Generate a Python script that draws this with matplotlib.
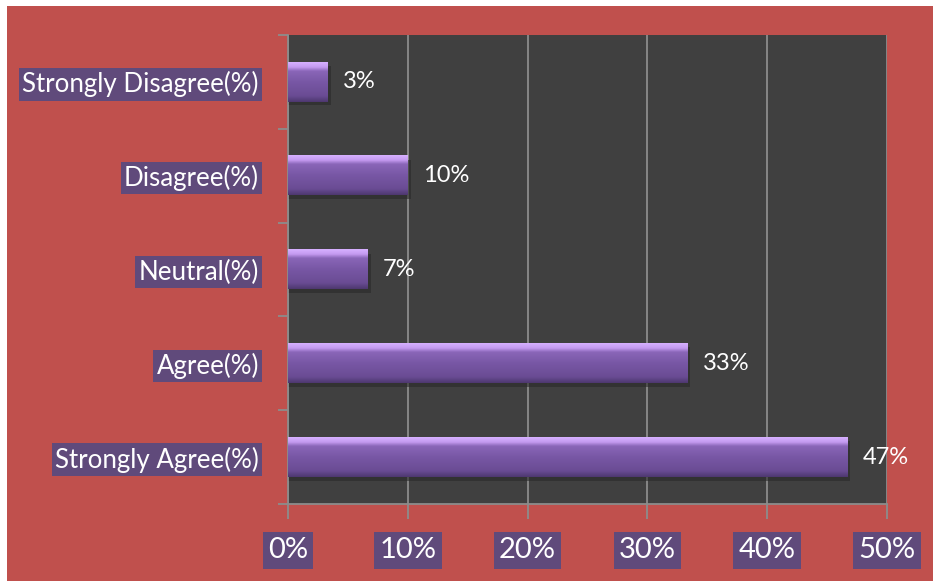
import matplotlib
matplotlib.use("Agg")
import matplotlib.pyplot as plt
import numpy as np
from matplotlib.colors import LinearSegmentedColormap
from matplotlib.patches import Rectangle
from matplotlib.ticker import FixedLocator, FuncFormatter

categories = ["Strongly Agree(%)", "Agree(%)", "Neutral(%)", "Disagree(%)", "Strongly Disagree(%)"]
values = [46.67, 33.33, 6.67, 10.0, 3.33]
value_labels = ["47%", "33%", "7%", "10%", "3%"]
x_ticks = [0, 10, 20, 30, 40, 50]

RED = "#C0504D"
DARK = "#404040"
GRID = "#8C8C8C"
BOX = "#604A7B"
FONT = ["Lato", "DejaVu Sans"]

fig = plt.figure(figsize=(9.33, 5.81), dpi=100, facecolor="white")
fig.patches.append(Rectangle((7/933, 0), 1 - 7/933, 1 - 6/581, transform=fig.transFigure,
                             facecolor=RED, edgecolor="none", zorder=-10))

ax = fig.add_axes([288/933, 1 - 504/581, (887 - 288)/933, (504 - 35)/581])
ax.set_facecolor(DARK)

ax.set_axisbelow(True)
ax.xaxis.set_major_locator(FixedLocator(x_ticks))
ax.grid(axis="x", color=GRID, linewidth=1.3)
ax.grid(axis="y", visible=False)

cmap = LinearSegmentedColormap.from_list("bar", [
    (0.0, "#D6B0FF"), (0.12, "#C49AF0"), (0.22, "#8A66B8"),
    (0.5, "#7857A5"), (0.85, "#6A4C94"), (1.0, "#4E3870")])
grad = np.linspace(0, 1, 64).reshape(-1, 1)
h = 0.42
for i, v in enumerate(values):
    ax.add_patch(Rectangle((0, i - h/2 - 0.04), v + 0.25, h, facecolor="#2A2A2A",
                           edgecolor="none", alpha=0.6, zorder=2))
    ax.imshow(grad, aspect="auto", cmap=cmap, extent=(0, v, i - h/2, i + h/2),
              origin="upper", zorder=3, interpolation="bilinear")
    ax.annotate(value_labels[i], xy=(v, i), xytext=(11, 0), textcoords="offset points",
                ha="left", va="center", color="white", fontsize=17, family=FONT, zorder=5)
ax.set_xlim(0, 50)
ax.set_ylim(-0.5, len(categories) - 0.5)

ax.set_yticks(range(len(categories)))
ax.set_yticklabels(categories)
ax.set_yticks(np.arange(-0.5, len(categories), 1.0), minor=True)
ax.tick_params(axis="y", which="major", length=0, pad=21)
ax.tick_params(axis="y", which="minor", length=7, color=GRID, width=1.3)
ax.xaxis.set_major_formatter(FuncFormatter(lambda x, p: f"{int(x)}%"))
ax.tick_params(axis="x", which="major", length=11, color=GRID, width=1.3, pad=13)

for lab in ax.get_yticklabels():
    lab.set_family(FONT)
    lab.set_fontsize(18.6)
    lab.set_color("white")
    lab.set_bbox(dict(boxstyle="square,pad=0.12", facecolor=BOX, edgecolor="none"))
for lab in ax.get_xticklabels():
    lab.set_family(FONT)
    lab.set_fontsize(21)
    lab.set_color("white")
    lab.set_bbox(dict(boxstyle="square,pad=0.18", facecolor=BOX, edgecolor="none"))

for s in ["top", "right"]:
    ax.spines[s].set_visible(False)
for s in ["left", "bottom"]:
    ax.spines[s].set_color(GRID)
    ax.spines[s].set_linewidth(1.3)

fig.savefig("out.png", dpi=100, facecolor="white")
